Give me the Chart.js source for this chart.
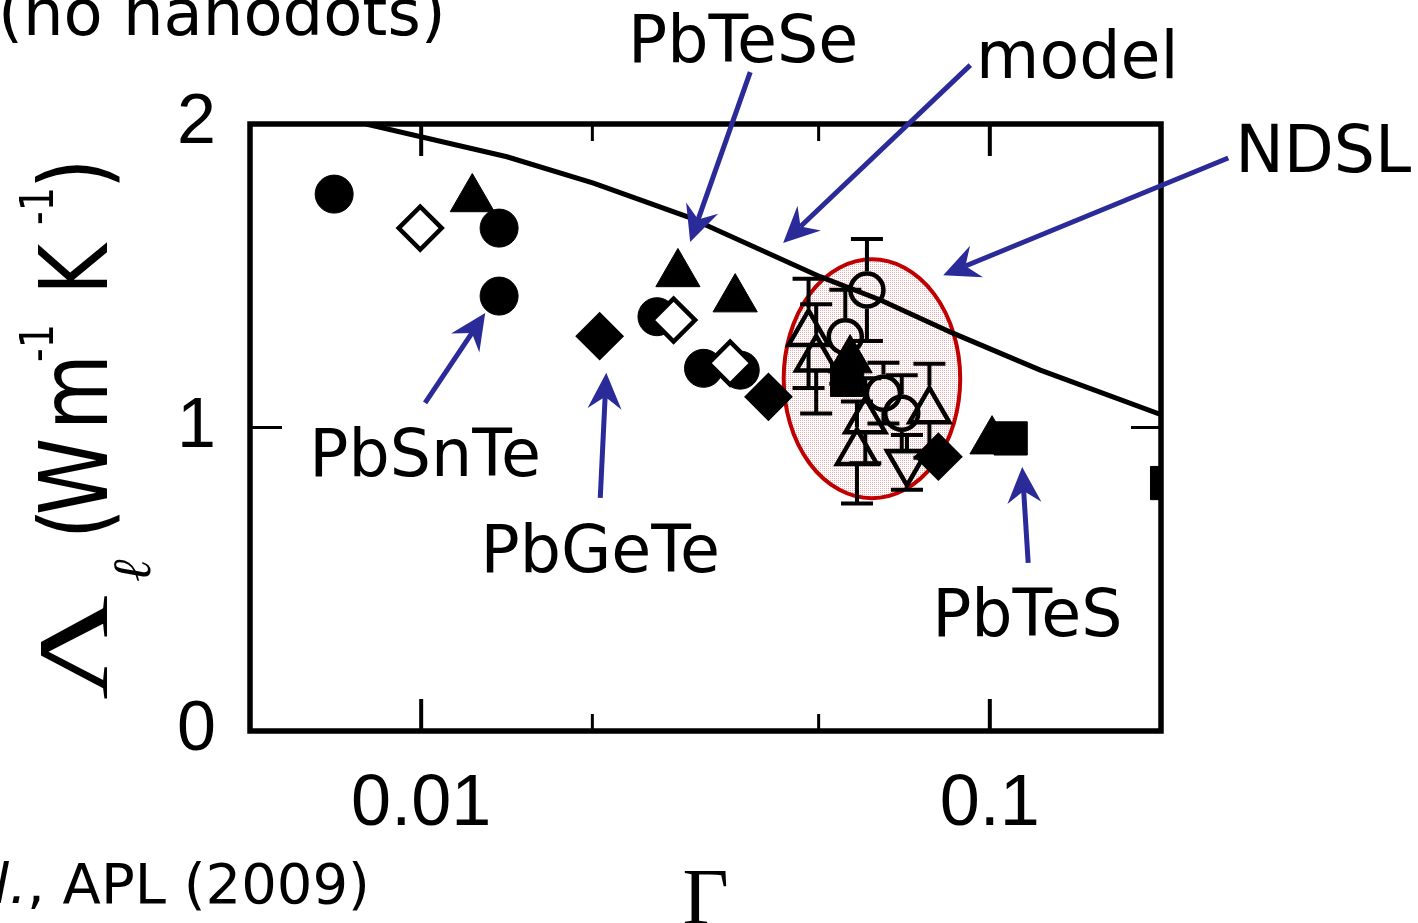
<!DOCTYPE html>
<html>
<head>
<meta charset="utf-8">
<script src="https://cdn.jsdelivr.net/npm/chart.js@4/dist/chart.umd.min.js"></script>
<style>
  html, body { margin: 0; padding: 0; background: #fff; overflow: hidden; }
  #wrap { width: 1418px; height: 923px; }
</style>
</head>
<body>
<div id="wrap"><canvas id="c" width="1418" height="923"></canvas></div>
<script>
// Lattice thermal conductivity Λℓ versus disorder parameter Γ

// axis ranges and ticks
const xRange = [0.005, 0.2];
const yRange = [0, 2];
const xTickValues = [0.01, 0.1];
const xTickLabels = ['0.01', '0.1'];
const xMinorTicks = [0.02, 0.05];
const yTickValues = [0, 1, 2];
const yTickLabels = ['0', '1', '2'];

// model curve
const modelGamma  = [0.0080, 0.01415, 0.02009, 0.02934, 0.0503, 0.0642, 0.0863, 0.1227, 0.2009];
const modelLambda = [2.000, 1.892, 1.805, 1.695, 1.497, 1.420, 1.310, 1.189, 1.041];

// alloy samples
const filledCircleGamma  = [0.00703, 0.01371, 0.01371, 0.02598, 0.03137, 0.0364];
const filledCircleLambda = [1.769, 1.657, 1.433, 1.365, 1.195, 1.189];

const openDiamondGamma  = [0.00996, 0.02779, 0.03494];
const openDiamondLambda = [1.657, 1.354, 1.212];

const filledTriangleGamma  = [0.0123, 0.02828, 0.03566, 0.0568, 0.1009];
const filledTriangleLambda = [1.753, 1.506, 1.423, 1.222, 0.955];

const filledDiamondGamma  = [0.0206, 0.0408, 0.0812];
const filledDiamondLambda = [1.301, 1.101, 0.904];

const filledSquareGamma  = [0.0561, 0.1088, 0.205];
const filledSquareLambda = [1.157, 0.964, 0.817];

// nanostructured samples with error bars
const openTriangleGamma  = [0.0480, 0.0495, 0.0604, 0.0584, 0.0783];
const openTriangleLambda = [1.310, 1.226, 1.022, 0.918, 1.055];
const openTriangleErr    = [0.18, 0.18, 0.14, 0.168, 0.155];

const openCircleGamma  = [0.0608, 0.0557, 0.0650, 0.0700];
const openCircleLambda = [1.453, 1.299, 1.113, 1.047];
const openCircleErr    = [0.168, 0.155, 0.10, 0.125];

const openInvTriangleGamma  = [0.0715];
const openInvTriangleLambda = [0.885];
const openInvTriangleErr    = [0.09];

// highlighted NDSL region (Γ span, Λ span)
const ndslGamma  = [0.0434, 0.0887];
const ndslLambda = [0.767, 1.554];

// callouts: text anchor, arrow tail, arrow tip (Γ, Λ)
const calloutText   = ['PbTeSe', 'model', 'NDSL', 'PbSnTe', 'PbGeTe', 'PbTeS'];
const calloutGamma  = [0.03683, 0.1425, 0.3858, 0.01016, 0.02065, 0.1164];
const calloutLambda = [2.204, 2.152, 1.842, 0.840, 0.524, 0.313];
const tailGamma  = [0.0379, 0.0924, 0.2626, 0.01016, 0.02065, 0.1168];
const tailLambda = [2.171, 2.194, 1.888, 1.081, 0.768, 0.554];
const tipGamma   = [0.02972, 0.0433, 0.0828, 0.01296, 0.02116, 0.1140];
const tipLambda  = [1.611, 1.608, 1.502, 1.377, 1.180, 0.870];

const pts = (xs, ys) => xs.map((x, i) => ({ x: x, y: ys[i] }));

const BLACK = '#000000';
const ARROW = '#2a2a98';

function marker(label, xs, ys, style, radius, border, fill, order, extra) {
  return Object.assign({
    label: label,
    data: pts(xs, ys),
    showLine: false,
    pointStyle: style,
    pointRadius: radius,
    pointHoverRadius: radius,
    pointBorderWidth: border,
    borderWidth: border,
    pointBackgroundColor: fill,
    backgroundColor: fill,
    pointBorderColor: BLACK,
    borderColor: BLACK,
    clip: 0,
    order: order
  }, extra || {});
}

const datasets = [
  marker('filled diamond', filledDiamondGamma, filledDiamondLambda, 'rectRot', 23, 2, BLACK, 1),
  marker('open diamond', openDiamondGamma, openDiamondLambda, 'rectRot', 21.5, 4.5, '#ffffff', 2),
  marker('open circle', openCircleGamma, openCircleLambda, 'circle', 16.5, 4.5, 'rgba(0,0,0,0)', 3,
         { errorBars: openCircleErr, gapUp: 1, gapDown: 1 }),
  marker('open triangle', openTriangleGamma, openTriangleLambda, 'triangle', 23, 4.5, 'rgba(0,0,0,0)', 4,
         { errorBars: openTriangleErr, gapUp: 1, gapDown: 0.5 }),
  marker('open inverted triangle', openInvTriangleGamma, openInvTriangleLambda, 'triangle', 23, 4.5, 'rgba(0,0,0,0)', 5,
         { errorBars: openInvTriangleErr, gapUp: 0.5, gapDown: 1, pointRotation: 180, rotation: 180 }),
  marker('filled circle', filledCircleGamma, filledCircleLambda, 'circle', 19, 1, BLACK, 6),
  marker('filled triangle', filledTriangleGamma, filledTriangleLambda, 'triangle', 25.5, 1, BLACK, 7),
  marker('filled square', filledSquareGamma, filledSquareLambda, 'rect', 23.5, 1, BLACK, 8),
  {
    label: 'model',
    type: 'line',
    data: pts(modelGamma, modelLambda),
    borderColor: BLACK,
    borderWidth: 5,
    pointRadius: 0,
    tension: 0,
    fill: false,
    clip: 0,
    order: 9
  }
];

function dotPattern(ctx) {
  const p = document.createElement('canvas');
  p.width = 2; p.height = 2;
  const g = p.getContext('2d');
  g.fillStyle = 'rgb(246,170,170)';
  g.fillRect(0, 0, 1, 1);
  return ctx.createPattern(p, 'repeat');
}

function drawArrow(ctx, x0, y0, x1, y1) {
  const a = Math.atan2(y1 - y0, x1 - x0);
  const c = Math.cos(a), s = Math.sin(a);
  const L = 36, W = 17, N = 12;
  ctx.beginPath();
  ctx.moveTo(x0, y0);
  ctx.lineTo(x1 - (L - N) * c, y1 - (L - N) * s);
  ctx.stroke();
  ctx.beginPath();
  ctx.moveTo(x1, y1);
  ctx.lineTo(x1 - L * c + W * s, y1 - L * s - W * c);
  ctx.lineTo(x1 - (L - N) * c, y1 - (L - N) * s);
  ctx.lineTo(x1 - L * c - W * s, y1 - L * s + W * c);
  ctx.closePath();
  ctx.fill();
}

const decorations = {
  id: 'decorations',
  beforeDatasetsDraw(chart) {
    const { ctx, chartArea: area, scales: { x, y } } = chart;
    ctx.save();
    ctx.beginPath();
    ctx.rect(area.left, area.top, area.right - area.left, area.bottom - area.top);
    ctx.clip();

    // NDSL ellipse
    const ex0 = x.getPixelForValue(ndslGamma[0]), ex1 = x.getPixelForValue(ndslGamma[1]);
    const ey0 = y.getPixelForValue(ndslLambda[0]), ey1 = y.getPixelForValue(ndslLambda[1]);
    ctx.beginPath();
    ctx.ellipse((ex0 + ex1) / 2, (ey0 + ey1) / 2, Math.abs(ex1 - ex0) / 2, Math.abs(ey1 - ey0) / 2, 0, 0, Math.PI * 2);
    ctx.fillStyle = dotPattern(ctx);
    ctx.fill();
    ctx.lineWidth = 4;
    ctx.strokeStyle = '#c00000';
    ctx.stroke();

    // error bars, drawn from the marker edge outwards
    ctx.strokeStyle = BLACK;
    ctx.lineWidth = 4;
    ctx.lineCap = 'butt';
    chart.data.datasets.forEach((ds, i) => {
      if (!ds.errorBars) return;
      const meta = chart.getDatasetMeta(i);
      const r = ds.pointRadius + ds.pointBorderWidth / 2;
      meta.data.forEach((el, j) => {
        const v = ds.data[j].y, e = ds.errorBars[j];
        const px = el.x, py = el.y;
        const top = y.getPixelForValue(v + e), bot = y.getPixelForValue(v - e);
        ctx.beginPath();
        ctx.moveTo(px, py - r * ds.gapUp); ctx.lineTo(px, top);
        ctx.moveTo(px, py + r * ds.gapDown); ctx.lineTo(px, bot);
        ctx.moveTo(px - 16, top); ctx.lineTo(px + 16, top);
        ctx.moveTo(px - 16, bot); ctx.lineTo(px + 16, bot);
        ctx.stroke();
      });
    });
    ctx.restore();
  },
  afterDraw(chart) {
    const { ctx, chartArea: area, scales: { x, y } } = chart;
    ctx.save();

    // plot frame and inward ticks
    ctx.strokeStyle = BLACK;
    ctx.lineWidth = 5.5;
    ctx.lineJoin = 'miter';
    ctx.strokeRect(area.left, area.top, area.right - area.left, area.bottom - area.top);
    const tick = (x0, y0, x1, y1, w) => {
      ctx.lineWidth = w;
      ctx.beginPath(); ctx.moveTo(x0, y0); ctx.lineTo(x1, y1); ctx.stroke();
    };
    xTickValues.forEach(v => {
      const px = x.getPixelForValue(v);
      tick(px, area.bottom, px, area.bottom - 32, 4);
      tick(px, area.top, px, area.top + 32, 4);
    });
    xMinorTicks.forEach(v => {
      const px = x.getPixelForValue(v);
      tick(px, area.bottom, px, area.bottom - 17, 3);
      tick(px, area.top, px, area.top + 17, 3);
    });
    yTickValues.slice(1, -1).forEach(v => {
      const py = y.getPixelForValue(v);
      tick(area.left, py, area.left + 32, py, 3);
      tick(area.right, py, area.right - 30, py, 3);
    });

    // callout arrows and labels
    ctx.strokeStyle = ARROW;
    ctx.fillStyle = ARROW;
    ctx.lineWidth = 5;
    ctx.lineCap = 'butt';
    for (let i = 0; i < calloutText.length; i++) {
      drawArrow(ctx,
        x.getPixelForValue(tailGamma[i]), y.getPixelForValue(tailLambda[i]),
        x.getPixelForValue(tipGamma[i]), y.getPixelForValue(tipLambda[i]));
    }
    ctx.fillStyle = BLACK;
    ctx.font = '65px "DejaVu Sans"';
    ctx.textAlign = 'center';
    ctx.textBaseline = 'alphabetic';
    for (let i = 0; i < calloutText.length; i++) {
      ctx.fillText(calloutText[i], x.getPixelForValue(calloutGamma[i]), y.getPixelForValue(calloutLambda[i]));
    }

    // header and citation
    ctx.textAlign = 'left';
    ctx.font = '64px "DejaVu Sans"';
    ctx.fillText('(no nanodots)', -2, 35);
    ctx.font = '56px "DejaVu Sans"';
    ctx.fillText(', APL (2009)', 27, 903);
    ctx.textAlign = 'right';
    ctx.font = 'oblique 56px "DejaVu Sans"';
    ctx.fillText('et al.', 27, 903);

    // x-axis title
    ctx.textAlign = 'center';
    ctx.font = '80px "Liberation Serif"';
    ctx.fillText('\u0393', (x.left + x.right) / 2, 924);

    // y-axis title, rotated
    ctx.save();
    ctx.translate(107, 700);
    ctx.rotate(-Math.PI / 2);
    ctx.textAlign = 'left';
    ctx.textBaseline = 'alphabetic';
    ctx.save();
    ctx.scale(1.45, 1);
    ctx.font = '100px "Liberation Serif"';
    ctx.fillText('\u039B', 0, 0);
    ctx.restore();
    ctx.font = 'italic 54px "Liberation Serif"';
    ctx.fillText('\u2113', 118, 43);
    ctx.save();
    ctx.scale(1, 1.2);
    ctx.font = '78px "DejaVu Sans"';
    ctx.fillText('(', 161, 0);
    ctx.fillText('W', 185, 0);
    ctx.fillText('m', 270, 0);
    ctx.fillText('K', 405, 0);
    ctx.fillText(')', 511, 0);
    ctx.font = '38px "DejaVu Sans"';
    ctx.fillText('-1', 338, -45);
    ctx.fillText('-1', 475, -45);
    ctx.restore();
    ctx.restore();

    ctx.restore();
  }
};

new Chart(document.getElementById('c').getContext('2d'), {
  type: 'scatter',
  data: { datasets: datasets },
  options: {
    responsive: false,
    animation: false,
    devicePixelRatio: 1,
    events: [],
    layout: { padding: { top: 124, right: 257, left: 0, bottom: 0 } },
    plugins: { legend: { display: false }, tooltip: { enabled: false } },
    scales: {
      x: {
        type: 'logarithmic',
        min: xRange[0],
        max: xRange[1],
        grid: { display: false, drawTicks: false },
        border: { display: false },
        afterBuildTicks: s => { s.ticks = xTickValues.map(v => ({ value: v })); },
        afterFit: s => { s.height = 192; },
        ticks: {
          autoSkip: false,
          maxRotation: 0,
          minRotation: 0,
          padding: 31,
          color: BLACK,
          font: { family: 'Liberation Sans', size: 72 },
          callback: (v, i) => xTickLabels[i]
        }
      },
      y: {
        min: yRange[0],
        max: yRange[1],
        grid: { display: false, drawTicks: false },
        border: { display: false },
        afterBuildTicks: s => { s.ticks = yTickValues.map(v => ({ value: v })); },
        afterFit: s => { s.width = 250; },
        ticks: {
          padding: 34,
          color: BLACK,
          font: { family: 'Liberation Sans', size: 70 },
          callback: (v, i) => yTickLabels[i]
        }
      }
    }
  },
  plugins: [decorations]
});
</script>
</body>
</html>
